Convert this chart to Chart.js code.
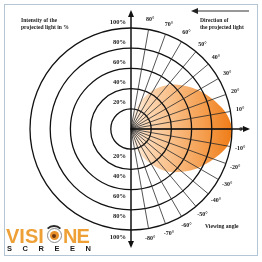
<!DOCTYPE html>
<html>
<head>
<meta charset="utf-8">
<script src="https://cdn.jsdelivr.net/npm/chart.js@4.4.0/dist/chart.umd.min.js"></script>
<style>
  html, body { margin: 0; padding: 0; background: #fff; }
  #wrap { position: relative; width: 262px; height: 262px; overflow: hidden; background: #fff; }
  #frame { position: absolute; left: 4px; top: 4px; width: 254px; height: 252px; border: 1px solid #b4c6d6; box-sizing: border-box; }
  canvas { position: absolute; left: 0; top: 0; }
  .note { position: absolute; font: bold 7px "Liberation Serif", serif; color: #1a1a1a; line-height: 7px; white-space: nowrap;
          transform: scaleX(0.8); transform-origin: left top; }
  .big { position: absolute; top: 226px; font: bold 20px "Liberation Sans", Arial, sans-serif; line-height: 1; color: #eea036; }
  #screen { position: absolute; left: 7px; top: 245px; width: 84px; display: flex; justify-content: space-between;
            font: bold 7.5px "Liberation Sans", Arial, sans-serif; color: #1a1a1a; line-height: 8px; }
  #brow { position: absolute; left: 44px; top: 225px; width: 20px; height: 20px; box-sizing: border-box; border-radius: 50%;
          border: 2px solid transparent; border-top-color: #2a2a2a; }
  #eye { position: absolute; left: 46.5px; top: 228px; width: 15px; height: 15px; box-sizing: border-box; border-radius: 50%;
         border: 1px solid #8a8a8a; background: #fff; }
  #ring { position: absolute; left: 2px; top: 2px; width: 9px; height: 9px; border-radius: 50%; background: #e8902a; }
  #pupil { position: absolute; left: 2.5px; top: 2.5px; width: 4px; height: 4px; border-radius: 50%; background: #6b3410; }
</style>
</head>
<body>
<div id="wrap">
  <canvas id="polarChart" width="262" height="262"></canvas>
  <div id="frame"></div>
  <div class="note" style="left:21px; top:17px;">Intensity of the<br>projected light in %</div>
  <div class="note" style="left:200px; top:17px;">Direction of<br>the projected light</div>
  <div class="note" style="left:205px; top:223px;">Viewing angle</div>
  <div class="big" style="left:6px;">VISI</div>
  <div id="brow"></div>
  <div id="eye"><div id="ring"><div id="pupil"></div></div></div>
  <div class="big" style="left:63px; letter-spacing:-1px;">NE</div>
  <div id="screen"><span>S</span><span>C</span><span>R</span><span>E</span><span>E</span><span>N</span></div>
</div>
<script>
// viewing angles measured from the screen normal, top (90) round to bottom (-90)
const viewingAngles = [90, 80, 70, 60, 50, 40, 30, 20, 10, 0, -10, -20, -30, -40, -50, -60, -70, -80, -90];
const lightIntensity = [0, 14, 30, 45, 57, 67, 77, 86, 95, 100, 97, 87, 77, 66, 55, 40, 26, 12, 0];
const percentTicks = [20, 40, 60, 80, 100];
const backHalf = 17;   // left half of the circle, nothing measured there

const labels = viewingAngles.map(a => a + '°').concat(Array(backHalf).fill(''));
const values = lightIntensity.concat(Array(backHalf).fill(0));

function arrowHead(ctx, x, y, dx, dy) {
  // tip at x,y pointing in direction dx,dy
  const len = 7, half = 3;
  ctx.beginPath();
  ctx.moveTo(x, y);
  ctx.lineTo(x - dx * len - dy * half, y - dy * len + dx * half);
  ctx.lineTo(x - dx * len + dy * half, y - dy * len - dx * half);
  ctx.closePath();
  ctx.fill();
}

const decor = {
  id: 'decor',
  afterDraw(chart) {
    const s = chart.scales.r;
    const ctx = chart.ctx;
    const cx = s.xCenter, cy = s.yCenter, R = s.drawingArea;
    ctx.save();
    ctx.strokeStyle = '#111';
    ctx.fillStyle = '#111';

    // vertical axis with arrows both ends
    ctx.lineWidth = 1.5;
    ctx.beginPath();
    ctx.moveTo(cx, cy - R - 12);
    ctx.lineTo(cx, cy + R + 12);
    ctx.stroke();
    arrowHead(ctx, cx, cy - R - 18, 0, -1);
    arrowHead(ctx, cx, cy + R + 18, 0, 1);

    // horizontal axis to the right
    ctx.beginPath();
    ctx.moveTo(cx, cy);
    ctx.lineTo(cx + R + 12, cy);
    ctx.stroke();
    arrowHead(ctx, cx + R + 18, cy, 1, 0);

    // direction of projected light arrow
    ctx.lineWidth = 1.2;
    ctx.strokeStyle = '#333';
    ctx.fillStyle = '#222';
    ctx.beginPath();
    ctx.moveTo(cx + 65, cy - R - 17);
    ctx.lineTo(cx + 118, cy - R - 17);
    ctx.stroke();
    arrowHead(ctx, cx + 60, cy - R - 17, -1, 0);

    // percent labels left of the axis, above and below
    ctx.fillStyle = '#1a1a1a';
    ctx.font = 'bold 6.5px "Liberation Serif", serif';
    ctx.textAlign = 'right';
    ctx.textBaseline = 'middle';
    percentTicks.forEach(t => {
      const r = s.getDistanceFromCenterForValue(t);
      ctx.fillText(t + '%', cx - 5, cy - r - 6);
      ctx.fillText(t + '%', cx - 5, cy + r + 7);
    });

    // angle labels round the right half
    ctx.font = 'bold 6px "Liberation Serif", serif';
    ctx.textAlign = 'center';
    for (let i = 1; i < viewingAngles.length - 1; i++) {
      const p = s.getPointPosition(i, R + 10);
      ctx.fillText(labels[i], p.x, p.y);
    }
    ctx.restore();
  }
};

new Chart(document.getElementById('polarChart'), {
  type: 'radar',
  data: {
    labels: labels,
    datasets: [{
      data: values,
      fill: true,
      borderWidth: 0,
      pointRadius: 0,
      tension: 0.3,
      backgroundColor: (c) => {
        const chart = c.chart;
        const s = chart.scales.r;
        if (!s || s.xCenter === undefined) return '#f08a2a';
        const g = chart.ctx.createLinearGradient(s.xCenter, 0, s.xCenter + s.drawingArea, 0);
        g.addColorStop(0, '#fff6ee');
        g.addColorStop(0.15, '#fcd9b6');
        g.addColorStop(0.4, '#f9bf88');
        g.addColorStop(0.7, '#f5a052');
        g.addColorStop(1, '#ef7c17');
        return g;
      }
    }]
  },
  options: {
    responsive: false,
    devicePixelRatio: 1,
    animation: false,
    layout: { padding: { left: 30, right: 29, top: 28, bottom: 31 } },
    plugins: { legend: { display: false }, tooltip: { enabled: false } },
    scales: {
      r: {
        min: 0,
        max: 100,
        ticks: { display: false, stepSize: 20 },
        pointLabels: { display: false },
        grid: { circular: true, color: '#111', lineWidth: 1.3, z: 1 },
        angleLines: {
          color: '#2a2a2a',
          lineWidth: (c) => (c.index >= 1 && c.index <= 17) ? 0.8 : 0
        }
      }
    }
  },
  plugins: [decor]
});
</script>
</body>
</html>
